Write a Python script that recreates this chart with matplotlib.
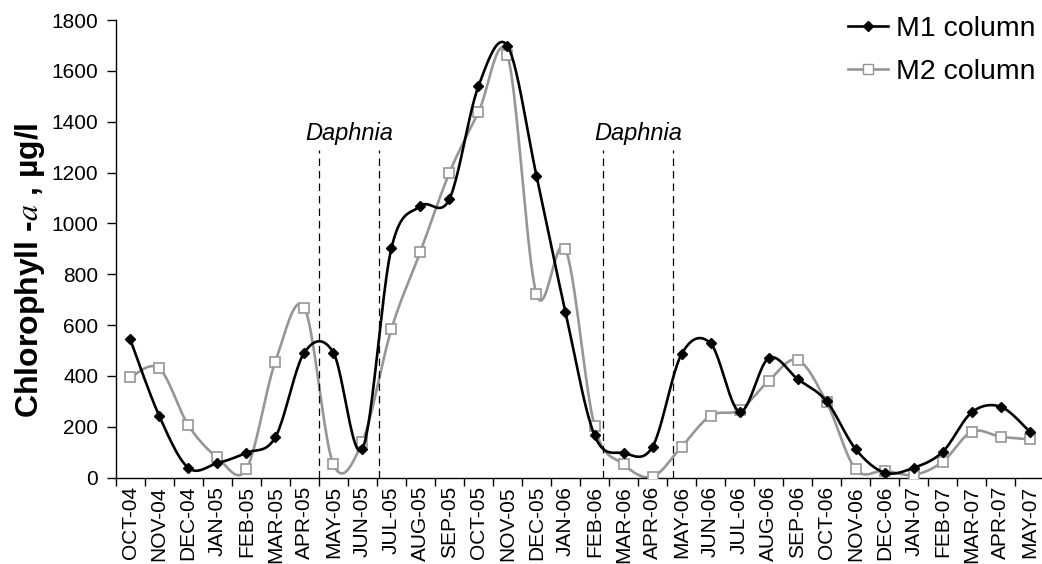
import numpy as np
import matplotlib
matplotlib.use('Agg')
import matplotlib.pyplot as plt
from matplotlib.lines import Line2D

plt.rcParams['font.family'] = ['Liberation Sans', 'DejaVu Sans']
plt.rcParams['mathtext.fontset'] = 'stix'

months = ['OCT-04', 'NOV-04', 'DEC-04', 'JAN-05', 'FEB-05', 'MAR-05', 'APR-05',
          'MAY-05', 'JUN-05', 'JUL-05', 'AUG-05', 'SEP-05', 'OCT-05', 'NOV-05',
          'DEC-05', 'JAN-06', 'FEB-06', 'MAR-06', 'APR-06', 'MAY-06', 'JUN-06',
          'JUL-06', 'AUG-06', 'SEP-06', 'OCT-06', 'NOV-06', 'DEC-06', 'JAN-07',
          'FEB-07', 'MAR-07', 'APR-07', 'MAY-07']

m1_column = [544, 243, 39, 57, 98, 159, 492, 492, 113, 902, 1068, 1096, 1540, 1698,
             1188, 650, 167, 97, 122, 486, 528, 260, 470, 388, 300, 112, 20, 39,
             102, 257, 279, 181]

m2_column = [395, 430, 207, 80, 33, 456, 669, 53, 142, 584, 889, 1199, 1437, 1662,
             722, 899, 204, 53, 4, 122, 244, 266, 381, 463, 296, 33, 28, 11,
             63, 181, 161, 151]

# Daphnia periods (in category units)
daphnia_periods = [(6.5, 8.57), (16.3, 18.71)]


def smooth_line( x, y, nseg = 24 ) :
	# cubic bezier through every point, control points from neighbours (1/6 tension)
	p = np.column_stack( [ x, y ] ).astype( float )
	p = np.vstack( [ p[0], p, p[-1] ] )
	t = np.linspace( 0, 1, nseg )[:, None]
	out = []
	for i in range( 1, len( p ) - 2 ) :
		p0, p1, p2, p3 = p[i - 1], p[i], p[i + 1], p[i + 2]
		c1 = p1 + ( p2 - p0 ) / 6.
		c2 = p2 - ( p3 - p1 ) / 6.
		seg = ( ( 1 - t ) ** 3 * p1 + 3 * ( 1 - t ) ** 2 * t * c1
				+ 3 * ( 1 - t ) * t ** 2 * c2 + t ** 3 * p2 )
		out.append( seg if i == 1 else seg[1:] )
	out = np.vstack( out )
	return out[:, 0], out[:, 1]


W, H = 1042, 564
fig = plt.figure( figsize = ( W / 100, H / 100 ), dpi = 100 )
ax = fig.add_axes( [ 115.7 / W, 1 - 477.7 / H, 928.6 / W, 457.7 / H ] )

x = np.arange( len( months ) )
gray = '#969696'

sx, sy = smooth_line( x, m2_column )
ax.plot( sx, sy, color = gray, lw = 1.9, zorder = 2 )
ax.plot( x, m2_column, ls = 'none', marker = 's', ms = 7.5, mfc = 'white',
		 mec = gray, mew = 1.2, zorder = 3 )

sx, sy = smooth_line( x, m1_column )
ax.plot( sx, sy, color = 'black', lw = 1.9, zorder = 4 )
ax.plot( x, m1_column, ls = 'none', marker = 'D', ms = 5, color = 'black', zorder = 5 )

for x0, x1 in daphnia_periods :
	ax.vlines( [ x0, x1 ], 0, 1290, colors = 'black', linestyles = ( 0, ( 6, 4 ) ), lw = 0.9 )
	ax.text( ( x0 + x1 ) / 2, 1330, 'Daphnia', style = 'italic', fontsize = 17,
			 ha = 'center', va = 'baseline' )

ax.set_xlim( -0.5, len( months ) - 0.5 )
ax.set_ylim( 0, 1800 )
ax.set_yticks( np.arange( 0, 1801, 200 ) )
ax.set_xticks( np.arange( -0.5, len( months ), 1 ) )
ax.set_xticklabels( [] )
ax.set_xticks( x, minor = True )
ax.set_xticklabels( months, minor = True, rotation = 90, fontsize = 15 )
ax.tick_params( axis = 'x', which = 'major', length = 6, width = 1 )
ax.tick_params( axis = 'x', which = 'minor', length = 0, pad = 6 )
ax.tick_params( axis = 'y', length = 6.5, width = 1, labelsize = 15, pad = 6 )

for side in [ 'top', 'right' ] :
	ax.spines[ side ].set_visible( False )
for side in [ 'left', 'bottom' ] :
	ax.spines[ side ].set_linewidth( 1 )

fig.text( 30 / W, 1 - 270 / H, 'Chlorophyll -$a$ , µg/l', rotation = 90,
		  fontsize = 23, fontweight = 'bold', ha = 'center', va = 'center' )

handles = [
	Line2D( [], [], color = 'black', lw = 1.9, marker = 'D', ms = 5 ),
	Line2D( [], [], color = gray, lw = 1.9, marker = 's', ms = 7, mfc = 'white', mec = gray ),
]
fig.legend( handles, [ 'M1 column', 'M2 column' ], loc = 'upper right',
			bbox_to_anchor = ( 1050 / W, 1 - 2 / H ), frameon = False, fontsize = 20.5,
			handlelength = 1.4, handletextpad = 0.3, labelspacing = 0.6, borderpad = 0 )

fig.savefig( 'out.png', dpi = 100 )
